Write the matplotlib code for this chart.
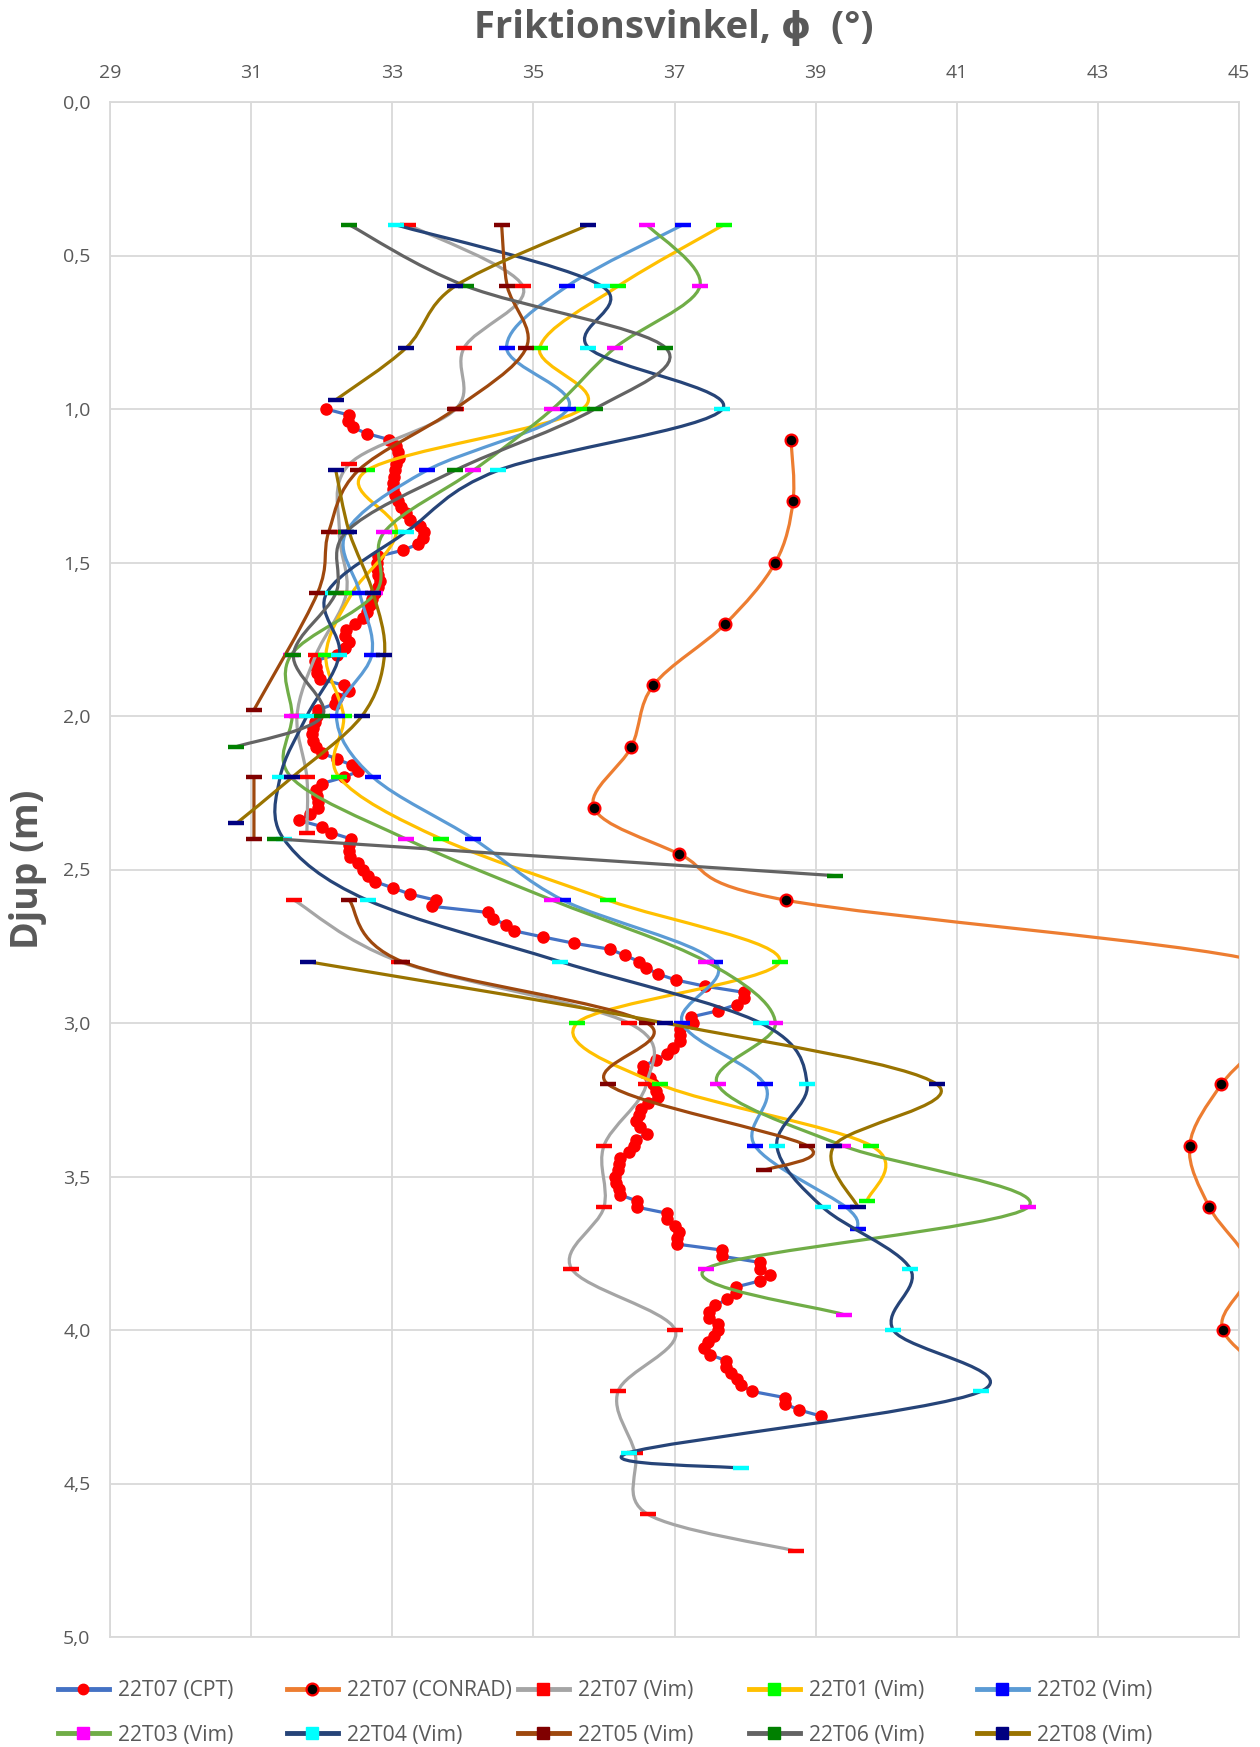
import numpy as np
import matplotlib.pyplot as plt
from matplotlib.path import Path
from matplotlib.patches import PathPatch
from matplotlib.lines import Line2D
from matplotlib.ticker import FixedLocator, MultipleLocator, FuncFormatter

plt.rcParams['font.family'] = ['Open Sans', 'DejaVu Sans']

# 22T07 CPT (djup m, friktionsvinkel grader)
cpt_djup = [1.00, 1.02, 1.04, 1.06, 1.08, 1.10, 1.12, 1.14, 1.16, 1.18, 1.20, 1.22, 1.24, 1.26,
            1.28, 1.30, 1.32, 1.34, 1.36, 1.38, 1.40, 1.42, 1.44, 1.46, 1.48, 1.50, 1.52, 1.54,
            1.56, 1.58, 1.60, 1.62, 1.64, 1.66, 1.68, 1.70, 1.72, 1.74, 1.76, 1.78, 1.80, 1.82,
            1.84, 1.86, 1.88, 1.90, 1.92, 1.94, 1.96, 1.98, 2.00, 2.02, 2.04, 2.06, 2.08, 2.10,
            2.12, 2.14, 2.16, 2.18, 2.20, 2.22, 2.24, 2.26, 2.28, 2.30, 2.32, 2.34, 2.36, 2.38,
            2.40, 2.42, 2.44, 2.46, 2.48, 2.50, 2.52, 2.54, 2.56, 2.58, 2.60, 2.62, 2.64, 2.66,
            2.68, 2.70, 2.72, 2.74, 2.76, 2.78, 2.80, 2.82, 2.84, 2.86, 2.88, 2.90, 2.92, 2.94,
            2.96, 2.98, 3.00, 3.02, 3.04, 3.06, 3.08, 3.10, 3.12, 3.14, 3.16, 3.18, 3.20, 3.22,
            3.24, 3.26, 3.28, 3.30, 3.32, 3.34, 3.36, 3.38, 3.40, 3.42, 3.44, 3.46, 3.48, 3.50,
            3.52, 3.54, 3.56, 3.58, 3.60, 3.62, 3.64, 3.66, 3.68, 3.70, 3.72, 3.74, 3.76, 3.78,
            3.80, 3.82, 3.84, 3.86, 3.88, 3.90, 3.92, 3.94, 3.96, 3.98, 4.00, 4.02, 4.04, 4.06,
            4.08, 4.10, 4.12, 4.14, 4.16, 4.18, 4.20, 4.22, 4.24, 4.26, 4.28]
cpt_phi = [32.06, 32.39, 32.37, 32.44, 32.64, 32.96, 33.05, 33.08, 33.10, 33.06, 33.04, 33.03, 33.01, 33.01,
           33.04, 33.08, 33.13, 33.20, 33.25, 33.40, 33.45, 33.44, 33.37, 33.15, 32.80, 32.79, 32.78, 32.80,
           32.83, 32.80, 32.76, 32.72, 32.68, 32.64, 32.59, 32.47, 32.35, 32.33, 32.38, 32.33, 32.21, 31.91,
           31.92, 31.93, 31.98, 32.32, 32.38, 32.21, 32.19, 31.95, 31.93, 31.90, 31.88, 31.86, 31.88, 31.92,
           32.00, 32.21, 32.43, 32.52, 32.31, 32.00, 31.92, 31.93, 31.95, 31.95, 31.83, 31.68, 32.00, 32.13,
           32.41, 32.39, 32.39, 32.40, 32.52, 32.58, 32.65, 32.76, 33.01, 33.25, 33.62, 33.57, 34.36, 34.43,
           34.61, 34.73, 35.14, 35.57, 36.09, 36.30, 36.50, 36.60, 36.76, 37.02, 37.43, 37.98, 37.98, 37.88,
           37.62, 37.24, 37.26, 37.08, 37.08, 37.08, 36.98, 36.89, 36.74, 36.56, 36.56, 36.65, 36.70, 36.74,
           36.76, 36.62, 36.53, 36.49, 36.46, 36.51, 36.61, 36.45, 36.43, 36.35, 36.23, 36.22, 36.20, 36.16,
           36.17, 36.22, 36.23, 36.47, 36.47, 36.90, 36.90, 37.01, 37.07, 37.03, 37.03, 37.68, 37.68, 38.21,
           38.21, 38.35, 38.21, 37.87, 37.87, 37.74, 37.58, 37.49, 37.49, 37.62, 37.62, 37.56, 37.47, 37.42,
           37.50, 37.73, 37.73, 37.80, 37.89, 37.94, 38.10, 38.56, 38.56, 38.76, 39.07]

# 22T07 CONRAD
conrad_djup = [1.10, 1.30, 1.50, 1.70, 1.90, 2.10, 2.30, 2.45, 2.60, 2.80, 3.00, 3.20, 3.40, 3.60, 3.80, 4.00, 4.20]
conrad_phi = [38.65, 38.68, 38.43, 37.72, 36.70, 36.39, 35.86, 37.07, 38.58, 45.30, 45.50, 44.75, 44.30, 44.58,
              45.15, 44.77, 45.80]

# Vingförsök (nan = avbrott i serien)
nan = np.nan
t07_djup = [0.4, 0.6, 0.8, 1.0, 1.18, 1.4, 1.6, 1.8, 2.0, 2.2, 2.38, nan, 2.6, 2.8, 3.0, 3.2, 3.4, 3.6,
            3.8, 4.0, 4.2, 4.4, 4.6, 4.72]
t07_phi = [33.23, 34.85, 34.02, 33.90, 32.39, 32.25, 32.35, 31.92, 31.65, 31.79, 31.79, nan, 31.61, 33.10,
           36.35, 36.60, 36.00, 36.00, 35.54, 37.01, 36.20, 36.44, 36.62, 38.72]

t01_djup = [0.4, 0.6, 0.8, 1.0, 1.2, 1.4, 1.6, 1.8, 2.0, 2.2, 2.4, 2.6, 2.8, 3.0, 3.2, 3.4, 3.58]
t01_phi = [37.70, 36.20, 35.09, 35.69, 32.64, 33.06, 32.43, 32.06, 32.31, 32.25, 33.69, 36.06, 38.49,
           35.62, 36.79, 39.79, 39.73]

t02_djup = [0.4, 0.6, 0.8, 1.0, 1.2, 1.4, 1.6, 1.8, 2.0, 2.2, 2.4, 2.6, 2.8, 3.0, 3.2, 3.4, 3.6, 3.67]
t02_phi = [37.12, 35.48, 34.62, 35.49, 33.49, 32.35, 32.54, 32.71, 32.21, 32.73, 34.15, 35.42, 37.57,
           37.11, 38.28, 38.14, 39.43, 39.60]

t03_djup = [0.4, 0.6, 0.8, 1.0, 1.2, 1.4, 1.6, 1.8, 2.0, 2.2, 2.4, 2.6, 2.8, 3.0, 3.2, 3.4, 3.6, 3.8, 3.95]
t03_phi = [36.61, 37.36, 36.16, 35.27, 34.15, 32.89, 32.76, 31.57, 31.58, 31.57, 33.19, 35.27, 37.45,
           38.43, 37.61, 39.39, 42.01, 37.45, 39.40]

t04_djup = [0.4, 0.6, 0.8, 1.0, 1.2, 1.4, 1.6, 1.8, 2.0, 2.2, 2.4, 2.6, 2.8, 3.0, 3.2, 3.4, 3.6, 3.8,
            4.0, 4.2, 4.4, 4.45]
t04_phi = [33.05, 35.97, 35.78, 37.68, 34.50, 33.20, 32.07, 32.25, 31.79, 31.41, 31.46, 32.65, 35.38,
           38.22, 38.88, 38.45, 39.10, 40.34, 40.10, 41.34, 36.35, 37.94]

t05_djup = [0.4, 0.6, 0.8, 1.0, 1.2, 1.4, 1.6, 1.98, nan, 2.2, 2.4, nan, 2.6, 2.8, 3.0, 3.2, 3.4, 3.48]
t05_phi = [34.55, 34.63, 34.90, 33.89, 32.52, 32.10, 31.94, 31.04, nan, 31.04, 31.04, nan, 32.39, 33.14,
           36.61, 36.06, 38.88, 38.27]

t06_djup = [0.4, 0.6, 0.8, 1.0, 1.2, 1.4, 1.6, 1.8, 2.0, 2.1, nan, 2.4, 2.52]
t06_phi = [32.39, 34.05, 36.87, 35.87, 33.89, 32.35, 32.20, 31.60, 32.01, 30.79, nan, 31.34, 39.27]

t08_djup = [0.4, 0.6, 0.8, 0.97, nan, 1.2, 1.4, 1.6, 1.8, 2.0, 2.2, 2.35, nan, 2.8, 3.0, 3.2, 3.4, 3.6]
t08_phi = [35.78, 33.89, 33.20, 32.20, nan, 32.20, 32.39, 32.73, 32.89, 32.57, 31.58, 30.79, nan, 31.80,
           36.86, 40.72, 39.26, 39.60]

vim_serier = [
    ('22T07 (Vim)', t07_phi, t07_djup, '#A5A5A5', '#FF0000'),
    ('22T01 (Vim)', t01_phi, t01_djup, '#FFC000', '#00FF00'),
    ('22T02 (Vim)', t02_phi, t02_djup, '#5B9BD5', '#0000FF'),
    ('22T03 (Vim)', t03_phi, t03_djup, '#70AD47', '#FF00FF'),
    ('22T04 (Vim)', t04_phi, t04_djup, '#264478', '#00FFFF'),
    ('22T05 (Vim)', t05_phi, t05_djup, '#9E480E', '#800000'),
    ('22T06 (Vim)', t06_phi, t06_djup, '#636363', '#008000'),
    ('22T08 (Vim)', t08_phi, t08_djup, '#997300', '#000080'),
]

x_ticks = [29, 31, 33, 35, 37, 39, 41, 43, 45]


def smooth_path(xs, ys):
    """Excel-liknande utjämnad linje: bezierkurvor genom punkterna, bryts vid nan."""
    xs = np.asarray(xs, float)
    ys = np.asarray(ys, float)
    ok = ~(np.isnan(xs) | np.isnan(ys))
    verts, codes = [], []
    start = None
    for i in range(len(xs) + 1):
        if i < len(xs) and ok[i]:
            if start is None:
                start = i
            continue
        if start is not None:
            p = np.column_stack([xs[start:i], ys[start:i]])
            n = len(p)
            verts.append(p[0])
            codes.append(Path.MOVETO)
            for k in range(n - 1):
                p0 = p[k - 1] if k > 0 else p[k]
                p3 = p[k + 2] if k + 2 < n else p[k + 1]
                c1 = p[k] + (p[k + 1] - p0) / 6
                c2 = p[k + 1] - (p3 - p[k]) / 6
                verts += [c1, c2, p[k + 1]]
                codes += [Path.CURVE4] * 3
            start = None
    return Path(verts, codes)


fig = plt.figure(figsize=(12.6, 17.47), dpi=100)
ax = fig.add_axes([110 / 1260, 1 - 1637 / 1747, 1129 / 1260, 1535 / 1747])

grey_txt = '#595959'
lw = 2.3
z = 3

# CPT: rak linje med röda punkter
ax.plot(cpt_phi, cpt_djup, color='#4472C4', lw=lw, marker='o', ms=8, mfc='#FF0000', mec='#FF0000',
        zorder=z)
handles = [Line2D([], [], color='#4472C4', lw=3.5, marker='o', ms=7.5, mfc='#FF0000', mec='#FF0000')]
labels = ['22T07 (CPT)']

# CONRAD: utjämnad linje
z += 1
ax.add_patch(PathPatch(smooth_path(conrad_phi, conrad_djup), fill=False, ec='#ED7D31', lw=lw, zorder=z))
ax.plot(conrad_phi, conrad_djup, ls='none', marker='o', ms=8.5, mfc='black', mec='#FF0000', mew=1.6,
        zorder=z + 0.5)
handles.append(Line2D([], [], color='#ED7D31', lw=3.5, marker='o', ms=8.5, mfc='black', mec='#FF0000',
                      mew=1.6))
labels.append('22T07 (CONRAD)')

for namn, phi, djup, lc, mc in vim_serier:
    z += 1
    ax.add_patch(PathPatch(smooth_path(phi, djup), fill=False, ec=lc, lw=lw, zorder=z))
    ax.plot(phi, djup, ls='none', marker='_', ms=11, mew=3.2, color=mc, zorder=z + 0.5)
    handles.append(Line2D([], [], color=lc, lw=3.5, marker='s', ms=8, mfc=mc, mec=mc))
    labels.append(namn)

ax.set_xlim(29, 45)
ax.set_ylim(5, 0)
ax.xaxis.set_major_locator(FixedLocator(x_ticks))
ax.yaxis.set_major_locator(MultipleLocator(0.5))
ax.yaxis.set_major_formatter(FuncFormatter(lambda v, _: f'{v:.1f}'.replace('.', ',')))
ax.xaxis.tick_top()
ax.tick_params(length=0, colors=grey_txt, labelsize=14)
ax.tick_params(axis='x', pad=14.5)
ax.tick_params(axis='y', pad=14)
ax.grid(color='#D9D9D9', lw=1.3, zorder=0)
ax.set_axisbelow(True)
for s in ax.spines.values():
    s.set_color('#D9D9D9')
    s.set_linewidth(1.3)

fig.text(674 / 1260, 1 - 28 / 1747, 'Friktionsvinkel, ϕ  (°)', ha='center', va='center',
         fontsize=27.5, weight='bold', color=grey_txt)
fig.text(28 / 1260, 1 - 869 / 1747, 'Djup (m)', ha='center', va='center', rotation=90,
         fontsize=27, weight='bold', color=grey_txt)

# teckenförklaring: fem kolumner med två rader vardera
kol_x = [58, 287, 518, 749, 977]
for j, x0 in enumerate(kol_x):
    fig.legend([handles[j], handles[j + 5]], [labels[j], labels[j + 5]], loc='center left',
               bbox_to_anchor=(x0 / 1260, 1 - 1713 / 1747), frameon=False, borderpad=0,
               borderaxespad=0, handlelength=2.4, handletextpad=0.45, labelspacing=1.12,
               fontsize=15.2, labelcolor=grey_txt)

fig.savefig('out.png', dpi=100)
